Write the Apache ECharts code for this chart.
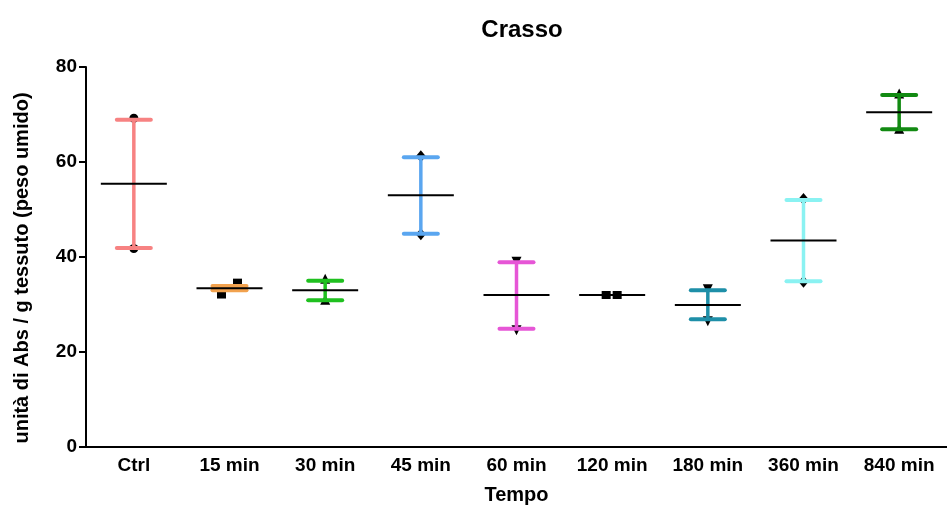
<!DOCTYPE html>
<html>
<head>
<meta charset="utf-8">
<script src="https://cdn.jsdelivr.net/npm/echarts@6/dist/echarts.min.js"></script>
<style>html,body{margin:0;padding:0;background:#fff;}#c{width:947px;height:510px;}</style>
</head>
<body>
<div id="c"></div>
<script>
// ---- data ----
var categories = ['Ctrl', '15 min', '30 min', '45 min', '60 min', '120 min', '180 min', '360 min', '840 min'];
var means = [55.4, 33.4, 33.0, 53.0, 32.0, 32.0, 29.9, 43.5, 70.5];
var highs = [68.9, 33.9, 35.0, 61.0, 38.9, 32.0, 33.0, 52.0, 74.1];
var lows  = [41.9, 33.0, 30.9, 44.9, 24.9, 32.0, 26.9, 34.9, 66.9];
var pointsA = [69.2, 34.6, 35.2, 61.2, 39.2, 32.0, 33.4, 52.2, 74.2];
var pointsB = [41.8, 32.1, 30.8, 44.8, 24.8, 32.0, 26.7, 34.8, 66.8];
var yTicks = [0, 20, 40, 60, 80];

// ---- styles ----
var colors = ['#F78282', '#F2A24E', '#1FC01F', '#5AA6F0', '#E656D6', '#8c8c8c', '#1E8FA8', '#8AF2F2', '#128A12'];
var symbols = ['circle', 'rect', 'triangle', 'diamond', 'triangleDown', 'rect', 'triangleDown', 'diamond', 'triangle'];
var jitterA = [0, 8, 0, 0, 0, 5, 0, 0, 0];
var jitterB = [0, -8, 0, 0, 0, -6, 0, 0, 0];

var FONT = '"Liberation Sans", Arial, sans-serif';

var chart = echarts.init(document.getElementById('c'));

var errData = categories.map(function (c, i) { return [i, means[i], lows[i], highs[i]]; });
var ptData = [];
categories.forEach(function (c, i) {
  ptData.push([i, pointsA[i], jitterA[i]]);
  ptData.push([i, pointsB[i], jitterB[i]]);
});

var option = {
  backgroundColor: '#ffffff',
  animation: false,
  title: {
    text: 'Crasso',
    left: 517, top: 13, textAlign: 'center',
    textStyle: { fontFamily: FONT, fontWeight: 'bold', fontSize: 24, color: '#000' }
  },
  grid: { left: 86, right: -8, top: 67, bottom: 62, containLabel: false },
  xAxis: {
    type: 'category',
    data: categories,
    boundaryGap: true,
    name: 'Tempo',
    nameLocation: 'middle',
    nameGap: 38,
    nameTextStyle: { fontFamily: FONT, fontWeight: 'bold', fontSize: 20, color: '#000' },
    axisLine: { lineStyle: { color: '#000', width: 2 } },
    axisTick: { alignWithLabel: true, length: 7, lineStyle: { color: '#000', width: 2 } },
    axisLabel: { fontFamily: FONT, fontWeight: 'bold', fontSize: 19, color: '#000', margin: 9, interval: 0 },
    splitLine: { show: false }
  },
  yAxis: {
    type: 'value',
    min: yTicks[0], max: yTicks[yTicks.length - 1], interval: 20,
    axisLine: { show: true, lineStyle: { color: '#000', width: 2 } },
    axisTick: { show: true, length: 7, lineStyle: { color: '#000', width: 2 } },
    axisLabel: { fontFamily: FONT, fontWeight: 'bold', fontSize: 19, color: '#000', margin: 9 },
    splitLine: { show: false }
  },
  graphic: [{
    type: 'text',
    x: 22, y: 268,
    rotation: Math.PI / 2,
    style: {
      text: 'unità di Abs / g tessuto (peso umido)',
      font: 'bold 20px ' + FONT,
      fill: '#000',
      textAlign: 'center',
      textVerticalAlign: 'middle'
    }
  }],
  series: [
    {
      type: 'custom',
      z: 2,
      data: ptData,
      renderItem: function (params, api) {
        var i = api.value(0);
        var p = api.coord([i, api.value(1)]);
        var x = p[0] + api.value(2);
        var y = p[1];
        var name = symbols[i];
        if (name === 'circle') {
          return { type: 'circle', shape: { cx: x, cy: y, r: 4.5 }, style: { fill: '#000' } };
        } else if (name === 'rect') {
          return { type: 'rect', shape: { x: x - 4.5, y: y - 4, width: 9, height: 8 }, style: { fill: '#000' } };
        } else if (name === 'triangle') {
          return { type: 'polygon', shape: { points: [[x, y - 6], [x + 5, y + 4], [x - 5, y + 4]] }, style: { fill: '#000' } };
        } else if (name === 'diamond') {
          return { type: 'polygon', shape: { points: [[x, y - 6], [x + 5, y], [x, y + 6], [x - 5, y]] }, style: { fill: '#000' } };
        } else {
          return { type: 'polygon', shape: { points: [[x - 5, y - 4], [x + 5, y - 4], [x, y + 6]] }, style: { fill: '#000' } };
        }
      }
    },
    {
      type: 'custom',
      z: 3,
      data: errData,
      renderItem: function (params, api) {
        var i = api.value(0);
        var pm = api.coord([i, api.value(1)]);
        var pl = api.coord([i, api.value(2)]);
        var ph = api.coord([i, api.value(3)]);
        var x = pm[0];
        var col = colors[i];
        var capHalf = 17;
        var meanHalf = 33;
        var children = [];
        if (Math.abs(pl[1] - ph[1]) > 0.5) {
          children.push({ type: 'line', shape: { x1: x, y1: ph[1], x2: x, y2: pl[1] }, style: { stroke: col, lineWidth: 3.5 } });
          children.push({ type: 'line', shape: { x1: x - capHalf, y1: ph[1], x2: x + capHalf, y2: ph[1] }, style: { stroke: col, lineWidth: 4, lineCap: 'round' } });
          children.push({ type: 'line', shape: { x1: x - capHalf, y1: pl[1], x2: x + capHalf, y2: pl[1] }, style: { stroke: col, lineWidth: 4, lineCap: 'round' } });
        }
        children.push({ type: 'line', shape: { x1: x - meanHalf, y1: pm[1], x2: x + meanHalf, y2: pm[1] }, style: { stroke: '#000', lineWidth: 2 } });
        return { type: 'group', children: children };
      }
    }
  ]
};
chart.setOption(option);
</script>
</body>
</html>
